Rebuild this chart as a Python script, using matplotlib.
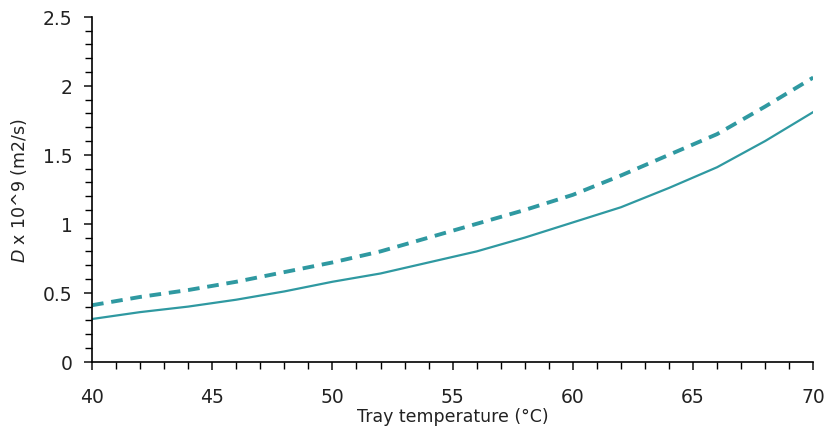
import matplotlib
matplotlib.use('Agg')
import matplotlib.pyplot as plt
from matplotlib.ticker import MultipleLocator

# tray temperature (C) and diffusion coefficient D x 10^9 (m2/s)
temp = [40, 42, 44, 46, 48, 50, 52, 54, 56, 58, 60, 62, 64, 66, 68, 70]
d_solid = [0.31, 0.36, 0.40, 0.45, 0.51, 0.58, 0.64, 0.72, 0.80, 0.90,
           1.01, 1.12, 1.26, 1.41, 1.60, 1.81]
d_dashed = [0.41, 0.47, 0.52, 0.58, 0.65, 0.72, 0.80, 0.90, 1.00, 1.10,
            1.21, 1.35, 1.50, 1.65, 1.85, 2.06]

color = '#2f99a1'

fig = plt.figure(figsize=(8.29, 4.35), dpi=100)
ax = fig.add_axes([0.111, 0.166, 0.870, 0.793])

ax.plot(temp, d_solid, color=color, lw=1.6)
ax.plot(temp, d_dashed, color=color, lw=2.8, linestyle=(0, (3, 2)))

ax.set_xlim(40, 70)
ax.set_ylim(0, 2.5)
ax.xaxis.set_major_locator(MultipleLocator(5))
ax.xaxis.set_minor_locator(MultipleLocator(1))
ax.yaxis.set_major_locator(MultipleLocator(0.5))
ax.yaxis.set_minor_locator(MultipleLocator(0.1))
ax.yaxis.set_major_formatter(plt.FuncFormatter(lambda v, p: f'{v:g}'))

for s in ['top', 'right']:
    ax.spines[s].set_visible(False)
ax.spines['left'].set_linewidth(1.2)
ax.spines['bottom'].set_linewidth(1.2)
ax.tick_params(which='major', direction='out', length=6, width=1.2, labelsize=13.5, colors='#222222')
ax.tick_params(which='minor', direction='out', length=5, width=1.0)
ax.tick_params(axis='x', pad=12)
ax.tick_params(axis='y', pad=8)

ax.set_xlabel('Tray temperature (°C)', fontsize=12.5, labelpad=1, color='#222222')
ax.set_ylabel(r'$\mathit{D}$ x 10^9 (m2/s)', fontsize=12.5, labelpad=10, color='#222222')

fig.savefig('out.png', dpi=100)
